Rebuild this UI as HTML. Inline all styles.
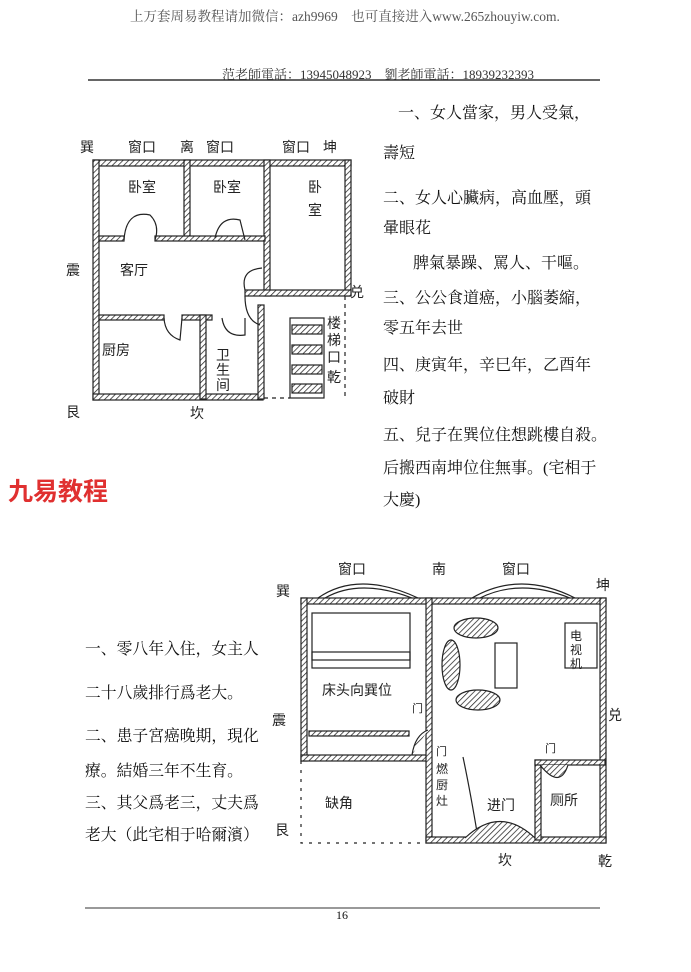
<!DOCTYPE html><html><head><meta charset="utf-8"><style>
body{margin:0;width:691px;height:972px;background:#fff;position:relative;overflow:hidden;font-family:"Liberation Serif","Noto Serif CJK SC","Noto Sans CJK SC",serif;color:#111}
.t{position:absolute;white-space:nowrap;font-size:16px}
.b{font-size:15.8px}
svg{position:absolute;left:0;top:0}
</style></head><body>
<div class="t" style="left:130px;top:5px;font-size:13.5px;color:#555">上万套周易教程请加微信：azh9969　也可直接进入www.265zhouyiw.com.</div>
<div class="t" style="left:222px;top:64px;font-size:13px;color:#333">范老師電話：13945048923　劉老師電話：18939232393</div>
<div class="t" style="left:398px;top:100px">一、女人當家，男人受氣，</div>
<div class="t" style="left:383px;top:140px">壽短</div>
<div class="t" style="left:383px;top:185px">二、女人心臟病，高血壓，頭</div>
<div class="t" style="left:383px;top:215px">暈眼花</div>
<div class="t" style="left:413px;top:250px">脾氣暴躁、罵人、干嘔。</div>
<div class="t" style="left:383px;top:285px">三、公公食道癌，小腦萎縮，</div>
<div class="t" style="left:383px;top:315px">零五年去世</div>
<div class="t" style="left:383px;top:352px">四、庚寅年，辛巳年，乙酉年</div>
<div class="t" style="left:383px;top:385px">破財</div>
<div class="t" style="left:383px;top:422px">五、兒子在巽位住想跳樓自殺。</div>
<div class="t" style="left:383px;top:455px">后搬西南坤位住無事。(宅相于</div>
<div class="t" style="left:383px;top:487px">大慶)</div>
<div class="t" style="left:8px;top:472px;font-size:25px;font-weight:bold;color:#e03030;font-family:'Noto Sans CJK SC',sans-serif">九易教程</div>
<div class="t b" style="left:85px;top:636px">一、零八年入住，女主人</div>
<div class="t b" style="left:85px;top:680px">二十八歲排行爲老大。</div>
<div class="t b" style="left:85px;top:723px">二、患子宮癌晚期，現化</div>
<div class="t b" style="left:85px;top:758px">療。結婚三年不生育。</div>
<div class="t b" style="left:85px;top:790px">三、其父爲老三，丈夫爲</div>
<div class="t b" style="left:85px;top:822px">老大（此宅相于哈爾濱）</div>
<div class="t" style="left:336px;top:908px;font-size:12px">16</div>
<svg width="691" height="972" font-family="'Noto Sans CJK SC',sans-serif" font-size="14">
<defs><pattern id="h" width="4" height="4" patternUnits="userSpaceOnUse" patternTransform="rotate(45)"><rect width="4" height="4" fill="#fff"/><line x1="0" y1="0" x2="0" y2="4" stroke="#222" stroke-width="1.5"/></pattern></defs>
<line x1="88" y1="80" x2="600" y2="80" stroke="#333" stroke-width="1.5"/>
<line x1="85" y1="908" x2="600" y2="908" stroke="#333" stroke-width="1"/>
<g fill="url(#h)" stroke="#222" stroke-width="1.2">
<rect x="93" y="160" width="258" height="6"/>
<rect x="93" y="160" width="6" height="240"/>
<rect x="345" y="160" width="6" height="136"/>
<rect x="93" y="394" width="170" height="6"/>
<rect x="184" y="160" width="6" height="80"/>
<rect x="264" y="160" width="6" height="136"/>
<rect x="99" y="236" width="25" height="5"/><rect x="155" y="236" width="110" height="5"/>
<rect x="245" y="290" width="106" height="6"/>
<rect x="99" y="315" width="65" height="5"/><rect x="182" y="315" width="30" height="5"/>
<rect x="258" y="305" width="6" height="94"/>
<rect x="200" y="315" width="6" height="84"/>
<rect x="292" y="325" width="30" height="9"/><rect x="292" y="345" width="30" height="9"/><rect x="292" y="365" width="30" height="9"/><rect x="292" y="384" width="30" height="9"/>
</g>
<g fill="none" stroke="#222" stroke-width="1.2">
<path d="M124 240 Q126 210 150 215 Q160 225 155 240"/>
<path d="M215 238 Q220 215 240 220 L245 240"/>
<path d="M245 290 Q240 270 262 268"/><path d="M245 296 Q245 320 260 325"/>
<path d="M164 318 Q165 335 180 340 L182 318"/>
<path d="M222 318 Q225 338 245 335 L245 318"/>
<rect x="290" y="318" width="34" height="80"/>
<path d="M264 398 L290 398" stroke-dasharray="4 4"/><path d="M345 296 L345 398" stroke-dasharray="4 4"/>
</g>
<g fill="#222">
<text x="80" y="152">巽</text><text x="128" y="152">窗口</text><text x="180" y="152">离</text><text x="206" y="152">窗口</text><text x="282" y="152">窗口</text><text x="323" y="152">坤</text>
<text x="128" y="192">卧室</text><text x="213" y="192">卧室</text><text x="308" y="192">卧</text><text x="308" y="215">室</text>
<text x="120" y="275">客厅</text><text x="102" y="355">厨房</text>
<text x="216" y="360">卫</text><text x="216" y="375">生</text><text x="216" y="390">间</text>
<text x="66" y="275">震</text><text x="66" y="417">艮</text><text x="190" y="418">坎</text><text x="350" y="297">兑</text>
<text x="327" y="328">楼</text><text x="327" y="345">梯</text><text x="327" y="362">口</text><text x="327" y="382">乾</text>
</g>
<g fill="url(#h)" stroke="#222" stroke-width="1.2">
<rect x="301" y="598" width="305" height="6"/>
<rect x="301" y="598" width="6" height="163"/>
<rect x="600" y="598" width="6" height="245"/>
<rect x="301" y="755" width="130" height="6"/>
<rect x="426" y="598" width="6" height="245"/>
<rect x="426" y="837" width="180" height="6"/>
<rect x="309" y="731" width="100" height="5"/>
<rect x="535" y="760" width="6" height="80"/><rect x="535" y="760" width="70" height="5"/>
</g>
<g fill="none" stroke="#222" stroke-width="1.2">
<path d="M318 598 Q358 570 418 598"/><path d="M325 598 Q360 578 412 598"/>
<path d="M472 598 Q520 570 575 598"/><path d="M480 598 Q520 578 570 598"/>
<rect x="312" y="613" width="98" height="55"/><rect x="312" y="652" width="98" height="8"/>
<rect x="495" y="643" width="22" height="45"/>
<rect x="565" y="623" width="32" height="45"/>
<ellipse cx="476" cy="628" rx="22" ry="10" fill="url(#h)"/>
<ellipse cx="451" cy="665" rx="9" ry="25" fill="url(#h)"/>
<ellipse cx="478" cy="700" rx="22" ry="10" fill="url(#h)"/>
<path d="M463 757 Q470 790 478 838" /><path d="M465 838 Q500 805 535 838" fill="url(#h)"/>
<path d="M412 755 Q415 735 428 730" fill="url(#h)"/>
<path d="M540 765 Q560 790 568 765" fill="url(#h)"/>
<path d="M301 761 L301 843 L426 843" stroke-dasharray="3 6"/>
</g>
<g fill="#222">
<text x="276" y="596">巽</text><text x="338" y="574">窗口</text><text x="432" y="574">南</text><text x="502" y="574">窗口</text><text x="596" y="590">坤</text>
<text x="322" y="695">床头向巽位</text><text x="570" y="640" font-size="12">电</text><text x="570" y="654" font-size="12">视</text><text x="570" y="668" font-size="12">机</text>
<text x="272" y="725">震</text><text x="608" y="720">兑</text><text x="275" y="835">艮</text>
<text x="325" y="808">缺角</text><text x="436" y="773" font-size="12">燃</text><text x="436" y="789" font-size="12">厨</text><text x="436" y="805" font-size="12">灶</text>
<text x="487" y="810">进门</text><text x="550" y="805">厕所</text><text x="498" y="865">坎</text><text x="598" y="866">乾</text>
<text x="412" y="712" font-size="11">门</text><text x="436" y="755" font-size="11">门</text><text x="545" y="752" font-size="11">门</text>
</g>
</svg>
</body></html>
